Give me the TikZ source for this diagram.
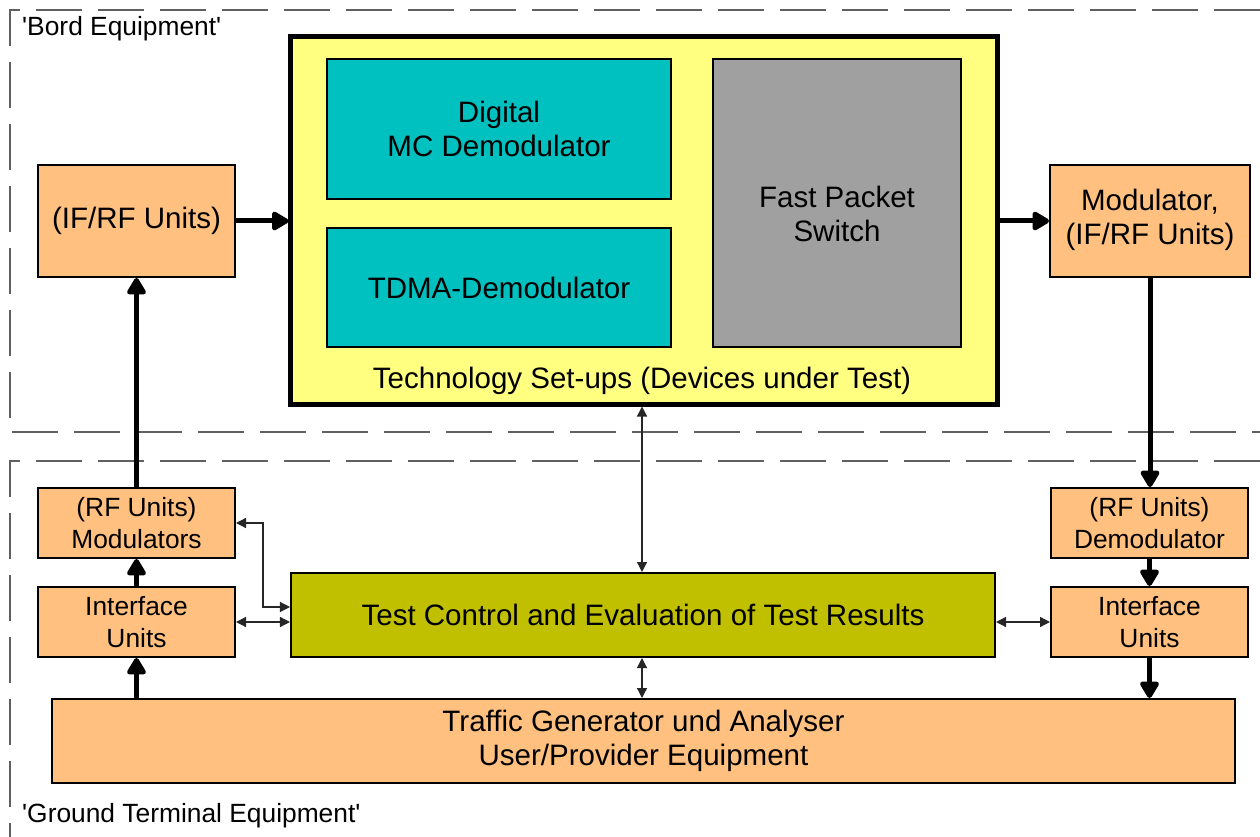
\documentclass[tikz,border=0pt]{standalone}
\usepackage{fontspec}
\setmainfont{Liberation Sans}
\usetikzlibrary{arrows.meta}
\definecolor{orangebox}{HTML}{FFC080}
\definecolor{tealbox}{HTML}{00C0C0}
\definecolor{graybox}{HTML}{A0A0A0}
\definecolor{yellowbox}{HTML}{FFFF80}
\definecolor{olivebox}{HTML}{C0C000}
\definecolor{dashgray}{HTML}{606060}
\tikzset{
  big/.style={font=\fontsize{16.8}{19.5}\selectfont},
  small/.style={font=\fontsize{15}{18}\selectfont},
  box/.style={draw=black, line width=0.4mm, inner sep=0pt, align=center},
  obox/.style={box, fill=orangebox},
  thickarrow/.style={line width=1mm, -{Triangle[length=3.8mm,width=4.2mm,round]}},
  thinarrow/.style={line width=0.25mm, draw=black!85, {Triangle[length=2mm,width=2mm]}-{Triangle[length=2mm,width=2mm]}},
  region/.style={draw=dashgray, line width=0.3mm, dash pattern=on 9.2mm off 3.2mm}
}
\begin{document}
\begin{tikzpicture}[x=0.2mm,y=-0.2mm]
\useasboundingbox (0,0) rectangle (1260,837);
% regions
\draw[region] (1260,10) -- (10,10) -- (10,432) -- (1260,432);
\draw[region] (1260,461) -- (10,461) -- (10,837);
\node[small, anchor=west] (bord) at (16,29) {\textquotesingle Bord Equipment\textquotesingle};
\node[small, anchor=west] (ground) at (16,816) {\textquotesingle Ground Terminal Equipment\textquotesingle};
% technology set-up
\node[box, line width=1mm, fill=yellowbox, minimum width=141.2mm, minimum height=73.4mm] (tech) at (644,220.5) {};
\node[box, fill=tealbox, big, minimum width=68.8mm, minimum height=28mm] (mcd) at (499,129) {Digital\\MC Demodulator};
\node[box, fill=tealbox, big, minimum width=68.8mm, minimum height=23.8mm] (tdma) at (499,287.5) {TDMA-Demodulator};
\node[box, fill=graybox, minimum width=49.6mm, minimum height=57.6mm] (fps) at (837,203) {};
\node[big, align=center] (fpslabel) at (837,214) {Fast Packet\\Switch};
\node[big] (techlabel) at (642,381) {Technology Set-ups (Devices under Test)};
% side units
\node[obox, big, minimum width=39.4mm, minimum height=22.4mm] (ifrf) at (136.5,221) {(IF/RF Units)};
\node[obox, big, minimum width=40mm, minimum height=22.4mm, text depth=1.6mm] (mod) at (1150,221) {Modulator,\\(IF/RF Units)};
\node[obox, small, minimum width=39.4mm, minimum height=14mm] (rfmod) at (136.5,523) {(RF Units)\\Modulators};
\node[obox, small, minimum width=39.4mm, minimum height=14mm] (ifl) at (136.5,622) {Interface\\Units};
\node[obox, small, minimum width=39.4mm, minimum height=14mm] (rfdem) at (1149.5,523) {(RF Units)\\Demodulator};
\node[obox, small, minimum width=39.4mm, minimum height=14mm] (ifr) at (1149.5,622) {Interface\\Units};
\node[box, fill=olivebox, big, minimum width=140.8mm, minimum height=16.8mm] (test) at (643,615) {Test Control and Evaluation of Test Results};
\node[obox, big, minimum width=236.6mm, minimum height=16.8mm] (traffic) at (643.5,741) {Traffic Generator und Analyser\\User/Provider Equipment};
% thick arrows
\draw[thickarrow] (ifrf.east) -- (ifrf.east -| tech.west);
\draw[thickarrow] (tech.east |- mod.west) -- (mod.west);
\draw[thickarrow] (rfmod.north) -- (rfmod.north |- ifrf.south);
\draw[thickarrow] (ifl.north) -- (rfmod.south);
\draw[thickarrow] (ifl.south |- traffic.north) -- (ifl.south);
\draw[thickarrow] (mod.south) -- (mod.south |- rfdem.north);
\draw[thickarrow] (rfdem.south) -- (ifr.north);
\draw[thickarrow] (ifr.south) -- (ifr.south |- traffic.north);
% thin arrows
\coordinate (elb) at (263,607);
\draw[thinarrow] (642,0 |- tech.south) -- (642,0 |- test.north);
\draw[thinarrow] (642,0 |- test.south) -- (642,0 |- traffic.north);
\draw[thinarrow] (ifl.east) -- (ifl.east -| test.west);
\draw[thinarrow] (rfmod.east) -| (elb) -- (elb -| test.west);
\draw[thinarrow] (test.east |- ifr.west) -- (ifr.west);
\end{tikzpicture}
\end{document}
